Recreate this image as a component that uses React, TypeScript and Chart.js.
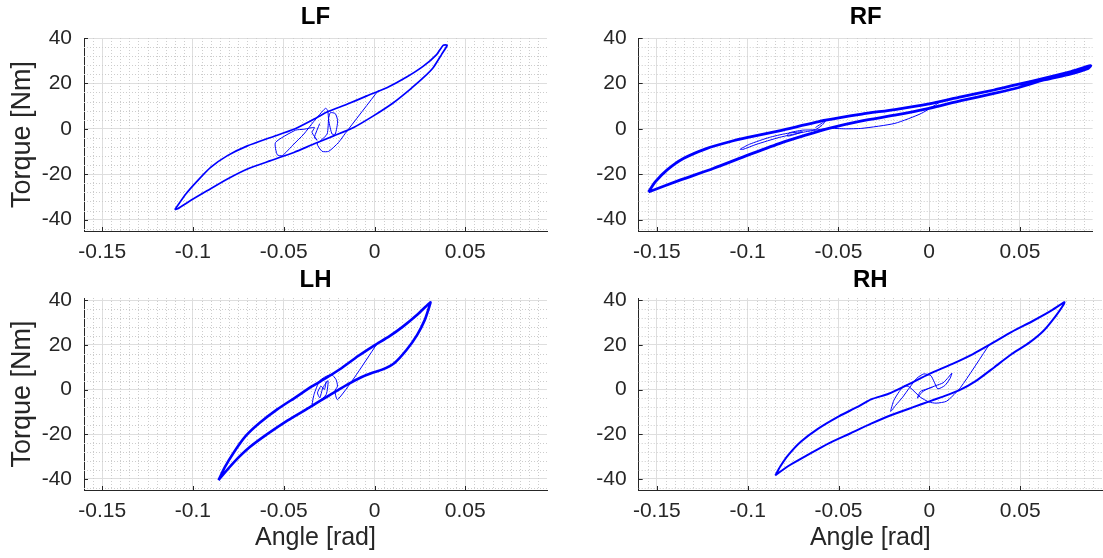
import React, { useEffect, useRef } from 'react';
import { Chart, registerables } from 'chart.js';

Chart.register(...registerables);

const FONT = '"Liberation Sans", Arial, Helvetica, sans-serif';

// ---- axis ticks ----
const xTickValues = [-0.15, -0.1, -0.05, 0, 0.05];
const xTickLabels = ['-0.15', '-0.1', '-0.05', '0', '0.05'];
const yTickValues = [-40, -20, 0, 20, 40];
const yTickLabels = ['-40', '-20', '0', '20', '40'];

// ---- LF ----
const lfUpperAngle = [-0.11, -0.1038, -0.0974, -0.0901, -0.081, -0.07, -0.0572, -0.0444, -0.0335, -0.0261, -0.0152, -0.0042, 0.0068, 0.0177, 0.0269, 0.0342, 0.0378];
const lfUpperTorque = [-35.6, -28.6, -22.8, -16.9, -11.8, -7.5, -3.8, -0.2, 4.2, 7.4, 10.8, 14.5, 18.1, 22.8, 27.6, 32.7, 36.8];
const lfLowerAngle = [0.04, 0.0369, 0.0323, 0.0269, 0.0196, 0.0104, -0.0006, -0.0115, -0.0225, -0.0335, -0.0444, -0.0572, -0.07, -0.081, -0.092, -0.1011, -0.1084];
const lfLowerTorque = [36.8, 32.7, 26.9, 22.5, 17.4, 11.5, 5.7, 0.6, -3.1, -6.7, -10.4, -14.0, -17.7, -22.1, -27.2, -31.5, -35.2];
const lfStartAngle = [-0.0302, -0.0331, -0.0316, -0.0344, -0.0331, -0.0389, -0.0435, -0.0545, -0.0536, -0.0508, -0.0444, -0.0389, -0.0335, -0.0271, -0.0258, -0.0252, -0.0234, -0.0216, -0.0203, -0.0216, -0.0243, -0.0252, -0.0261, -0.0298, -0.0316, -0.0289, -0.0252, -0.0198, -0.0161, 0.0022];
const lfStartTorque = [2.3, -3.8, -5.0, -1.6, 0.6, -0.2, -0.6, -6.0, -11.4, -11.8, -6.7, -2.3, 3.2, 9.0, 8.2, 3.5, -2.3, -2.3, 3.5, 6.7, 7.1, 5.0, -2.3, -5.3, -6.7, -9.9, -9.9, -6.0, -2.0, 17.0];

// ---- RF ----
const rfUpperAngle = [-0.1546, -0.1509, -0.1445, -0.1354, -0.1227, -0.1099, -0.0999, -0.0826, -0.0571, -0.0371, -0.0189, -0.0001, 0.0175, 0.0357, 0.0494, 0.0631, 0.0776, 0.0889];
const rfUpperTorque = [-27.8, -23.4, -18.2, -13.1, -8.7, -5.7, -3.8, -0.9, 3.8, 6.5, 8.5, 11.0, 14.1, 17.1, 19.7, 22.2, 25.1, 27.8];
const rfLowerAngle = [0.0876, 0.0776, 0.0631, 0.0494, 0.0357, 0.0175, -0.0001, -0.0189, -0.0371, -0.0553, -0.0681, -0.0826, -0.0999, -0.119, -0.1373, -0.1546];
const rfLowerTorque = [26.6, 24.1, 21.5, 18.2, 15.6, 12.4, 9.0, 6.0, 3.5, 0.2, -2.8, -6.5, -11.6, -17.5, -22.6, -27.8];
const rfStartAngle = [-0.0626, -0.0571, -0.059, -0.0626, -0.0699, -0.0772, -0.0781, -0.0753, -0.0699, -0.079, -0.0881, -0.099, -0.1041, -0.1027, -0.0954, -0.0826, -0.0681, -0.0553, -0.0462, -0.0371, -0.0189, -0.0043, 0.0075];
const rfStartTorque = [0.6, 3.5, 1.6, -0.3, -0.6, -1.8, -3.2, -2.8, -1.3, -2.1, -3.8, -6.8, -9.0, -9.1, -6.9, -3.8, -1.3, 0.2, 0.0, 0.2, 2.4, 6.8, 12.6];

// ---- LH ----
const lhUpperAngle = [-0.0859, -0.0825, -0.0776, -0.0709, -0.0632, -0.0536, -0.0439, -0.0343, -0.0266, -0.0189, -0.0092, 0.0, 0.0081, 0.0158, 0.0235, 0.0283, 0.0308];
const lhUpperTorque = [-40.6, -34.9, -28.3, -20.8, -14.9, -8.9, -3.7, 1.5, 5.2, 9.2, 14.9, 19.8, 23.8, 28.3, 33.5, 37.2, 39.1];
const lhLowerAngle = [0.0302, 0.0277, 0.0235, 0.0177, 0.011, 0.0042, -0.0015, -0.0073, -0.015, -0.0247, -0.0362, -0.0478, -0.0593, -0.069, -0.0776, -0.0848];
const lhLowerTorque = [37.2, 31.2, 24.5, 17.8, 11.9, 8.9, 7.4, 5.5, 2.2, -2.5, -8.2, -13.8, -20.1, -26.0, -32.7, -39.4];
const lhStartAngle = [-0.0266, -0.0276, -0.0295, -0.0314, -0.0301, -0.0285, -0.0256, -0.0266, -0.0314, -0.0343, -0.0333, -0.0304, -0.0276, -0.0237, -0.0212, -0.0204, -0.0218, -0.0204, -0.0112, 0.0013];
const lhStartTorque = [3.7, 0.0, 1.5, -1.5, -3.7, 0.7, 4.0, -2.2, -5.9, -7.4, -2.2, 3.7, 5.5, 6.7, 4.5, 1.5, -0.7, -4.5, 5.2, 20.4];

// ---- RH ----
const rhUpperAngle = [-0.0848, -0.0821, -0.0776, -0.0708, -0.0612, -0.0496, -0.0399, -0.0321, -0.0225, -0.0128, 0.0, 0.0124, 0.024, 0.0337, 0.0453, 0.0569, 0.0666, 0.0743];
const rhUpperTorque = [-38.5, -34.5, -29.3, -23.4, -17.5, -11.9, -7.9, -4.4, -1.9, 1.8, 7.0, 11.4, 15.9, 20.3, 25.8, 30.7, 35.1, 39.1];
const rhLowerAngle = [0.0739, 0.0695, 0.0627, 0.055, 0.0453, 0.0356, 0.0259, 0.0163, 0.0066, 0.0, -0.0089, -0.0205, -0.0321, -0.0437, -0.0554, -0.067, -0.0767, -0.084];
const rhLowerTorque = [38.1, 32.9, 26.2, 21.0, 15.9, 9.9, 4.0, -0.4, -3.4, -5.3, -7.9, -11.3, -15.3, -19.7, -24.1, -29.3, -33.8, -37.9];
const rhStartAngle = [0.0017, -0.0012, -0.005, -0.0066, -0.0041, -0.0002, 0.0037, 0.0075, 0.0105, 0.0124, 0.0114, 0.0085, 0.0046, 0.0027, 0.0008, -0.0031, -0.007, -0.0108, -0.0147, -0.0186, -0.0213, -0.0196, -0.0166, -0.0137, -0.0108, -0.005, -0.0002, 0.0037, 0.0095, 0.0172, 0.0331];
const rhStartTorque = [1.0, 0.3, -0.9, -3.9, -1.2, 0.6, 1.8, 3.0, 5.5, 7.4, 5.0, 1.8, 0.3, 3.3, 6.2, 7.0, 5.0, 1.0, -3.4, -7.1, -9.8, -4.9, -0.9, 1.8, 1.0, -3.4, -5.6, -6.1, -5.2, 1.0, 20.3];

type Panel = {
  title: string;
  left: number; top: number; w: number; h: number;
  yW: number; topH: number; xH: number; padRight: number;
  xMin: number; xMax: number; yMin: number; yMax: number;
  showY: boolean; showX: boolean; titlePad: number;
  loopWidth: number;
  upA: number[]; upT: number[]; loA: number[]; loT: number[]; stA: number[]; stT: number[];
};

const panels: Panel[] = [
  { title: 'LF', left: 0, top: 0, w: 551, h: 265, yW: 84, topH: 38, xH: 34, padRight: 4,
    xMin: -0.16, xMax: 0.095, yMin: -45, yMax: 40, showY: true, showX: false, titlePad: 3, loopWidth: 1.7,
    upA: lfUpperAngle, upT: lfUpperTorque, loA: lfLowerAngle, loT: lfLowerTorque, stA: lfStartAngle, stT: lfStartTorque },
  { title: 'RF', left: 551, top: 0, w: 552, h: 265, yW: 87.7, topH: 38, xH: 34, padRight: 10.4,
    xMin: -0.16, xMax: 0.09, yMin: -45, yMax: 40, showY: false, showX: false, titlePad: 3, loopWidth: 2.8,
    upA: rfUpperAngle, upT: rfUpperTorque, loA: rfLowerAngle, loT: rfLowerTorque, stA: rfStartAngle, stT: rfStartTorque },
  { title: 'LH', left: 0, top: 265, w: 551, h: 293, yW: 84, topH: 33, xH: 68, padRight: 4,
    xMin: -0.16, xMax: 0.095, yMin: -45, yMax: 41, showY: true, showX: true, titlePad: 0.6, loopWidth: 2.6,
    upA: lhUpperAngle, upT: lhUpperTorque, loA: lhLowerAngle, loT: lhLowerTorque, stA: lhStartAngle, stT: lhStartTorque },
  { title: 'RH', left: 551, top: 265, w: 552, h: 293, yW: 87.7, topH: 33, xH: 68, padRight: 1,
    xMin: -0.16, xMax: 0.095, yMin: -45, yMax: 41, showY: false, showX: true, titlePad: 0.6, loopWidth: 2.0,
    upA: rhUpperAngle, upT: rhUpperTorque, loA: rhLowerAngle, loT: rhLowerTorque, stA: rhStartAngle, stT: rhStartTorque },
];

const AXIS_COLOR = '#262626';

const minorGridPlugin = {
  id: 'minorGrid',
  beforeDatasetsDraw(chart: any) {
    const { ctx, chartArea: a, scales } = chart;
    const x = scales.x, y = scales.y;
    ctx.save();
    ctx.strokeStyle = '#cdcdcd';
    ctx.lineWidth = 1;
    ctx.setLineDash([1, 2]);
    const xStep = 0.005, xPer = 10;
    for (let k = Math.ceil(x.min / xStep - 1e-6); k * xStep < x.max - 1e-9; k++) {
      if (k * xStep <= x.min + 1e-9 || k % xPer === 0) continue;
      const px = Math.round(x.getPixelForValue(k * xStep)) + 0.5;
      ctx.beginPath(); ctx.moveTo(px, a.top); ctx.lineTo(px, a.bottom); ctx.stroke();
    }
    const yStep = 4, yPer = 5;
    for (let k = Math.ceil(y.min / yStep - 1e-6); k * yStep < y.max - 1e-9; k++) {
      if (k * yStep <= y.min + 1e-9 || k % yPer === 0) continue;
      const py = Math.round(y.getPixelForValue(k * yStep)) + 0.5;
      ctx.beginPath(); ctx.moveTo(a.left, py); ctx.lineTo(a.right, py); ctx.stroke();
    }
    ctx.setLineDash([]);
    ctx.strokeStyle = AXIS_COLOR;
    for (const v of xTickValues) {
      const px = Math.round(x.getPixelForValue(v)) + 0.5;
      ctx.beginPath(); ctx.moveTo(px, a.bottom); ctx.lineTo(px, a.bottom - 4); ctx.stroke();
    }
    for (const v of yTickValues) {
      const py = Math.round(y.getPixelForValue(v)) + 0.5;
      ctx.beginPath(); ctx.moveTo(a.left, py); ctx.lineTo(a.left + 4, py); ctx.stroke();
    }
    ctx.restore();
  },
};

const toPts = (xs: number[], ys: number[]) => xs.map((v, i) => ({ x: v, y: ys[i] }));

function makeConfig(p: Panel): any {
  const loop = [...toPts(p.upA, p.upT), ...toPts(p.loA, p.loT), { x: p.upA[0], y: p.upT[0] }];
  const start = toPts(p.stA, p.stT);
  return {
    type: 'scatter',
    data: {
      datasets: [
        { data: start, xAxisID: 'x', yAxisID: 'y', showLine: true, borderColor: '#0000ff', borderWidth: 1, pointRadius: 0, tension: 0.2 },
        { data: loop, xAxisID: 'x', yAxisID: 'y', showLine: true, borderColor: '#0000ff', borderWidth: p.loopWidth, pointRadius: 0, tension: 0.2 },
      ],
    },
    plugins: [minorGridPlugin],
    options: {
      responsive: false,
      animation: false,
      devicePixelRatio: 1,
      layout: { padding: { left: 0, top: 0, right: p.padRight, bottom: 0 } },
      plugins: { legend: { display: false }, tooltip: { enabled: false }, title: { display: false } },
      scales: {
        x: {
          type: 'linear', position: 'bottom', min: p.xMin, max: p.xMax, bounds: 'data',
          afterBuildTicks: (s: any) => { s.ticks = xTickValues.map((v) => ({ value: v })); },
          ticks: { callback: (_v: any, i: number) => xTickLabels[i], color: AXIS_COLOR, font: { family: FONT, size: 21 }, padding: 9, maxRotation: 0, autoSkip: false },
          grid: { color: '#dedede', lineWidth: 1, drawTicks: false },
          border: { display: true, color: AXIS_COLOR, width: 1 },
          title: { display: p.showX, text: 'Angle [rad]', color: AXIS_COLOR, font: { family: FONT, size: 25 }, padding: { top: 4.7, bottom: 4.7 } },
          afterFit: (s: any) => { s.height = p.xH; },
        },
        y: {
          type: 'linear', position: 'left', min: p.yMin, max: p.yMax, bounds: 'data',
          afterBuildTicks: (s: any) => { s.ticks = yTickValues.map((v) => ({ value: v })); },
          ticks: { callback: (_v: any, i: number) => yTickLabels[i], color: AXIS_COLOR, font: { family: FONT, size: 21 }, padding: 12, autoSkip: false },
          grid: { color: '#dedede', lineWidth: 1, drawTicks: false },
          border: { display: true, color: AXIS_COLOR, width: 1 },
          title: { display: p.showY, text: 'Torque [Nm]', color: AXIS_COLOR, font: { family: FONT, size: 27 }, padding: { top: 6.5, bottom: 6.5 } },
          afterFit: (s: any) => { s.width = p.yW; },
        },
        xTop: {
          type: 'linear', position: 'top', axis: 'x', min: 0, max: 1,
          grid: { display: false, drawTicks: false }, border: { display: false },
          ticks: { display: false },
          title: { display: true, text: p.title, color: '#000', font: { family: FONT, size: 24, weight: 'bold' }, padding: { top: p.titlePad, bottom: 0 } },
          afterFit: (s: any) => { s.height = p.topH; },
        },
      },
    },
  };
}

function PanelChart({ p }: { p: Panel }) {
  const ref = useRef<HTMLCanvasElement>(null);
  useEffect(() => {
    const chart = new Chart(ref.current as HTMLCanvasElement, makeConfig(p));
    return () => chart.destroy();
  }, [p]);
  return (
    <canvas
      ref={ref}
      width={p.w}
      height={p.h}
      style={{ position: 'absolute', left: p.left, top: p.top, width: p.w, height: p.h }}
    />
  );
}

export default function App() {
  return (
    <div style={{ position: 'absolute', left: 0, top: 0, width: 1103, height: 558, background: '#fff', overflow: 'hidden' }}>
      {panels.map((p) => (
        <PanelChart key={p.title} p={p} />
      ))}
    </div>
  );
}
